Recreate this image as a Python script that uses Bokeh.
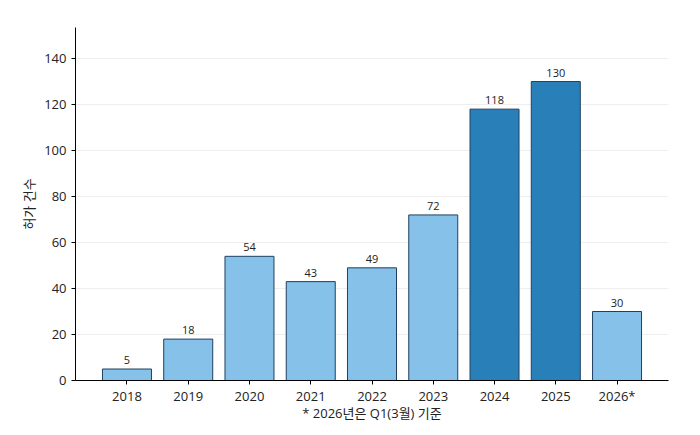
from bokeh.plotting import figure
from bokeh.models import FactorRange, ColumnDataSource, LabelSet
from bokeh.core.properties import value
from bokeh.embed import file_html
from bokeh.resources import INLINE

years = ["2018", "2019", "2020", "2021", "2022", "2023", "2024", "2025", "2026*"]
counts = [5, 18, 54, 43, 49, 72, 118, 130, 30]
colors = ["#85C1E9"] * 6 + ["#2980B9", "#2980B9"] + ["#85C1E9"]
y_ticks = [0, 20, 40, 60, 80, 100, 120, 140]

FONT = "Open Sans, Noto Sans CJK KR"

src = ColumnDataSource(dict(x=years, y=counts, c=colors, t=[str(v) for v in counts]))

p = figure(x_range=FactorRange(factors=years, range_padding=0.34, range_padding_units="absolute"),
           y_range=(0, 153.5), width=684, height=435, output_backend="svg",
           toolbar_location=None, min_border_left=75, min_border_top=27,
           min_border_right=16, min_border_bottom=55)

p.vbar(x="x", top="y", width=0.8, fill_color="c", line_color="#1f4060", line_width=1, source=src)

labels = LabelSet(x="x", y="y", text="t", source=src, text_align="center", text_baseline="bottom",
                  y_offset=5, text_font=value(FONT), text_font_size="11px", text_color="#222222")
p.add_layout(labels)

p.outline_line_color = None
p.xgrid.grid_line_color = None
p.ygrid.grid_line_color = "#eeeeee"
p.ygrid.grid_line_width = 1
p.yaxis.ticker = y_ticks

for ax in (p.xaxis[0], p.yaxis[0]):
    ax.axis_line_color = "#000000"
    ax.axis_line_width = 1
    ax.major_tick_line_color = "#000000"
    ax.major_tick_out = 4
    ax.major_tick_in = 0
    ax.minor_tick_line_color = None
    ax.major_label_text_font = FONT
    ax.major_label_text_font_size = "13px"
    ax.major_label_text_color = "#222222"
    ax.axis_label_text_font = FONT
    ax.axis_label_text_font_size = "13px"
    ax.axis_label_text_font_style = "normal"
    ax.axis_label_text_color = "#222222"

p.yaxis.axis_label = "허가 건수"
p.xaxis.axis_label = "* 2026년은 Q1(3월) 기준"
p.xaxis.axis_label_standoff = -4
p.yaxis.axis_label_standoff = 3
p.xaxis.major_label_standoff = 2
p.yaxis.major_label_standoff = 5

open("out.html", "w").write(file_html(p, INLINE))
